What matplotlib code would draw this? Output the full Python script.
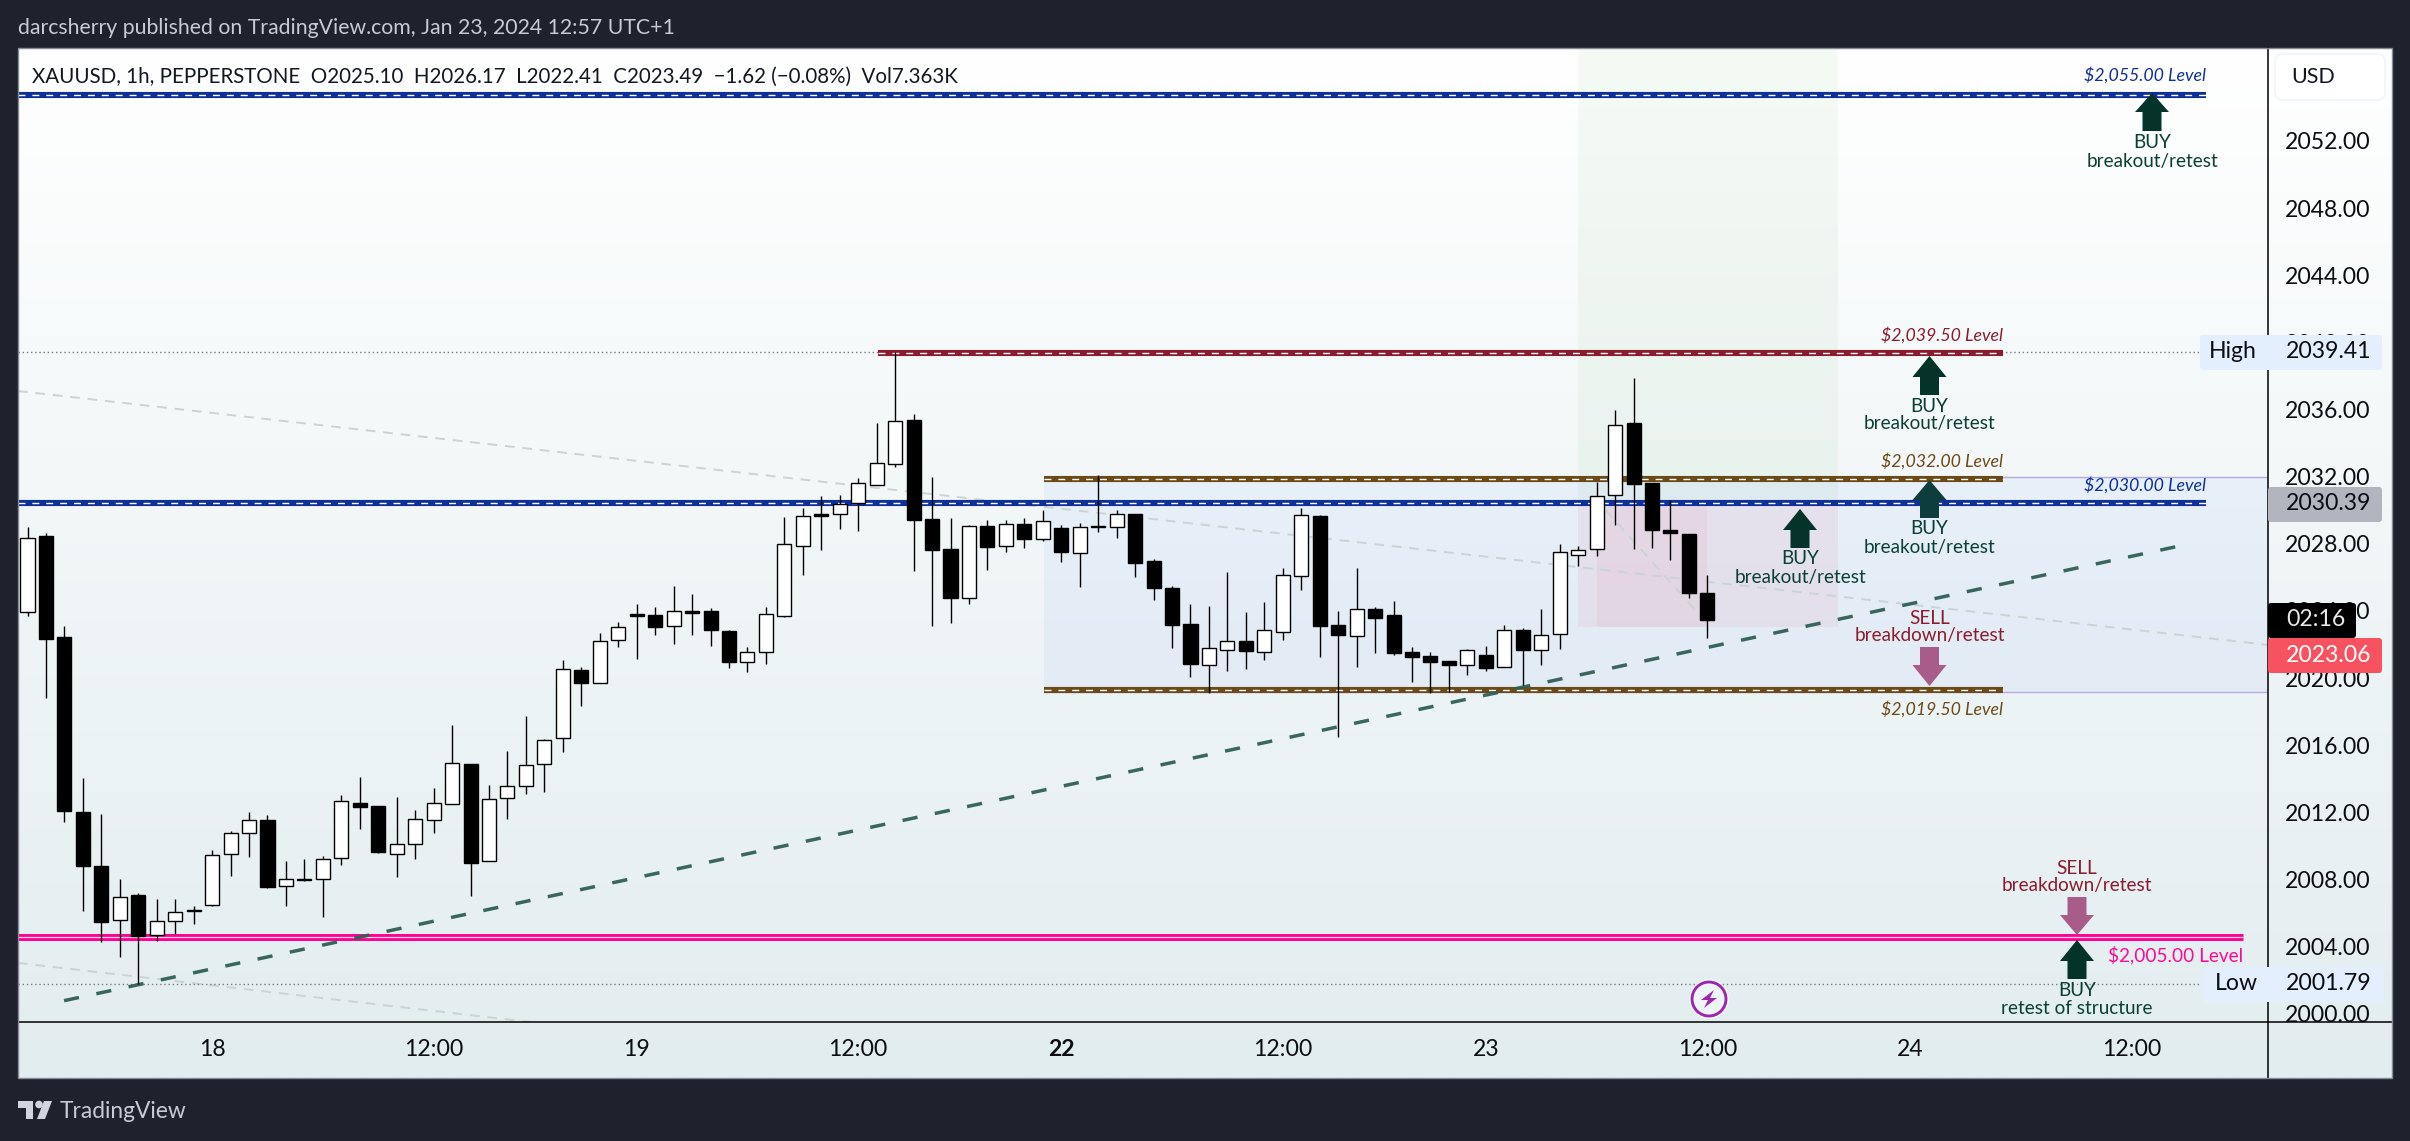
import numpy as np
import matplotlib
matplotlib.use("Agg")
import matplotlib.pyplot as plt
from matplotlib.patches import Rectangle, Polygon, Circle, FancyBboxPatch
from matplotlib.transforms import Bbox, IdentityTransform, TransformedBbox

plt.rcParams['font.family'] = ['Lato', 'DejaVu Sans']

opens = [2023.92,2028.44,2022.43,2012.01,2008.79,2005.57,2007.07,2004.73,2005.51,2006.14,
2006.51,2009.51,2010.76,2011.54,2007.60,2007.99,2008.01,2009.26,2012.54,2012.38,
2009.51,2010.10,2011.54,2012.52,2014.88,2009.10,2012.85,2013.57,2014.86,2016.42,
2020.48,2019.74,2022.30,2023.82,2023.76,2023.08,2024.01,2024.01,2022.82,2020.99,
2021.55,2023.72,2027.89,2029.77,2029.80,2030.41,2031.52,2032.77,2035.37,2029.48,
2027.69,2024.79,2029.06,2027.89,2029.18,2028.31,2028.94,2027.47,2029.00,2029.02,
2029.78,2026.98,2025.37,2023.22,2020.80,2021.70,2022.19,2021.58,2022.77,2026.10,
2029.66,2023.16,2022.53,2024.12,2023.76,2021.56,2021.32,2021.02,2020.80,2021.38,
2020.68,2022.87,2021.70,2022.61,2027.35,2027.67,2030.89,2035.20,2031.62,2028.82,
2028.58,2025.10]
highs = [2029.01,2028.62,2023.10,2014.06,2011.91,2008.01,2007.19,2006.84,2006.84,2006.41,
2009.75,2010.88,2012.01,2011.82,2009.12,2009.20,2009.38,2013.03,2014.12,2012.38,
2012.93,2012.15,2013.47,2017.22,2014.88,2013.63,2015.66,2017.75,2016.38,2021.07,
2020.64,2022.67,2023.35,2024.42,2024.23,2025.48,2025.01,2024.15,2022.86,2021.83,
2024.23,2029.60,2030.11,2030.85,2030.91,2031.90,2035.20,2039.41,2035.73,2031.98,
2029.54,2029.12,2029.42,2029.42,2029.52,2030.01,2029.12,2029.24,2032.10,2030.01,
2029.78,2027.10,2025.49,2024.42,2024.30,2026.32,2023.94,2024.53,2026.56,2030.13,
2029.72,2024.00,2026.56,2024.24,2024.59,2021.85,2021.56,2021.02,2021.73,2021.91,
2023.16,2022.99,2024.12,2027.99,2027.87,2031.68,2035.97,2037.88,2031.62,2030.61,
2028.58,2026.17]
lows = [2023.72,2018.84,2011.46,2006.16,2004.26,2003.42,2001.79,2004.36,2004.79,2005.38,
2006.43,2008.24,2009.36,2007.50,2006.45,2007.93,2005.79,2008.89,2011.04,2009.61,
2008.17,2009.20,2010.80,2012.52,2007.05,2009.10,2011.64,2013.12,2013.24,2015.62,
2018.37,2019.74,2021.87,2021.16,2022.59,2022.06,2022.59,2021.94,2020.62,2020.34,
2020.87,2023.66,2026.14,2027.65,2028.88,2028.78,2031.52,2032.57,2026.38,2023.12,
2023.30,2024.42,2026.44,2027.53,2027.75,2028.19,2026.92,2025.43,2028.70,2028.35,
2026.02,2024.65,2021.80,2020.07,2019.13,2020.42,2020.54,2021.08,2022.27,2025.25,
2021.26,2016.51,2020.66,2021.50,2021.38,2019.77,2019.13,2019.19,2020.19,2020.42,
2020.68,2019.59,2020.78,2021.74,2026.68,2027.29,2029.14,2027.69,2027.75,2027.04,
2024.79,2022.41]
closes = [2028.33,2022.35,2012.11,2008.83,2005.45,2006.98,2004.67,2005.51,2006.06,2006.18,
2009.45,2010.76,2011.54,2007.58,2008.01,2008.03,2009.20,2012.67,2012.34,2009.65,
2010.10,2011.60,2012.54,2014.92,2009.01,2012.79,2013.55,2014.80,2016.30,2020.52,
2019.74,2022.24,2023.02,2023.70,2023.06,2023.99,2023.88,2022.84,2020.99,2021.55,
2023.80,2027.97,2029.64,2029.66,2030.35,2031.60,2032.79,2035.30,2029.42,2027.63,
2024.79,2029.04,2027.83,2029.16,2028.29,2029.34,2027.51,2028.98,2029.06,2029.76,
2026.86,2025.37,2023.16,2020.84,2021.77,2022.19,2021.62,2022.85,2026.12,2029.70,
2023.12,2022.57,2024.10,2023.58,2021.50,2021.26,2020.96,2020.78,2021.66,2020.60,
2022.85,2021.70,2022.55,2027.49,2027.61,2030.83,2035.06,2031.58,2028.84,2028.66,
2025.09,2023.49]

price_ticks = [2000,2004,2008,2012,2016,2020,2024,2028,2032,2036,2040,2044,2048,2052]
time_ticks = [10,22,33,45,56,68,79,91,102,114]
time_labels = ['18','12:00','19','12:00','22','12:00','23','12:00','24','12:00']

level_prices = [2054.73,2039.35,2031.86,2030.41,2019.30,2004.60]
level_start = [-0.515,46.07,55.07,-0.515,55.07,-0.515]
level_end = [118.0,107.0,107.0,118.0,107.0,120.0]
level_colors = ['#0f2f9b','#8a1c2e','#6b4a18','#0f2f9b','#6b4a18','#ff0090']

range_top, range_bottom = 2032.0, 2019.2
range_start = 55.07
pos_start, pos_end, pos_inner_start, pos_inner_end = 84.0, 98.1, 85.0, 91.0
pos_entry, pos_stop = 2030.3, 2023.05

trend_x = [1.98, 116.4]
trend_y = [2000.79, 2027.83]
grey1_x = [-0.515, 121.37]
grey1_y = [2037.1, 2021.98]
grey2_x = [-0.515, 27.2]
grey2_y = [2003.04, 1999.52]
grey3_x = [85.5, 90.8]
grey3_y = [2030.0, 2023.5]
high_price, low_price = 2039.41, 2001.79

W, H = 2410, 1141
DARK = '#1e222d'
fig = plt.figure(figsize=(W/100, H/100), dpi=100, facecolor=DARK)

# panel gradient
bg = fig.add_axes([18/W, (H-1078)/H, (2392-18)/W, (1078-48)/H], zorder=0)
top = np.array([1.0, 1.0, 1.0])
bot = np.array([0xe2, 0xed, 0xef])/255
t = np.linspace(0, 1, 256)[:, None, None]
grad = top*(1-t) + bot*t
bg.imshow(grad, aspect='auto', extent=[0, 1, 0, 1], interpolation='bilinear')
bg.axis('off')

ax = fig.add_axes([18/W, (H-1022)/H, (2268-18)/W, (1022-48)/H], zorder=1)
ax.patch.set_alpha(0)
XL = (-0.515, 121.37)
ax.set_xlim(*XL)
ax.set_ylim(1999.52, 2057.53)
for s in ('top', 'left', 'right', 'bottom'):
    ax.spines[s].set_visible(False)

# range box
ax.fill_between([range_start, XL[1]], range_bottom, range_top, color='#2962ff', alpha=0.05, lw=0, zorder=1)
ax.hlines([range_top, range_bottom], range_start, XL[1], color='#b9a8e6', lw=1.0, zorder=1.2)
# position boxes
ax.fill_between([pos_start, pos_end], pos_entry, 2057.53, color='#4caf50', alpha=0.055, lw=0, zorder=1.1)
ax.fill_between([pos_start, pos_end], pos_stop, pos_entry, color='#e0405f', alpha=0.07, lw=0, zorder=1.1)
ax.fill_between([pos_inner_start, pos_inner_end], pos_stop, pos_entry, color='#e0405f', alpha=0.06, lw=0, zorder=1.1)

# grey lines
for xs, ys in ((grey1_x, grey1_y), (grey2_x, grey2_y), (grey3_x, grey3_y)):
    ax.plot(xs, ys, color='#cbd4d4', lw=1.4, ls=(0, (5, 4)), zorder=1.5, dash_capstyle='butt')

# high/low dotted
ax.hlines([high_price, low_price], XL[0], 117.7, color='#787b86', lw=1.0, ls=(0, (1, 2)), zorder=1.6)

# levels
for p, a, b, c in zip(level_prices, level_start, level_end, level_colors):
    if c == '#ff0090':
        ax.plot([a, b], [p, p], color=c, lw=5.0, zorder=2, solid_capstyle='butt')
        ax.plot([a, b], [p, p], color='#ffd6ec', lw=0.9, zorder=2.1, solid_capstyle='butt')
    else:
        ax.plot([a, b], [p, p], color=c, lw=4.4, zorder=2, solid_capstyle='butt')
        ax.plot([a, b], [p, p], color='white', lw=1.0, ls=(0, (5, 5)), zorder=2.1, dash_capstyle='butt')

# trend
ax.plot(trend_x, trend_y, color='#2f5f55', lw=2.5, ls=(0, (4.4, 5.1)), zorder=3, dash_capstyle='butt', alpha=0.95)

# candles
idx = np.arange(len(opens))
o, h, l, c = map(np.array, (opens, highs, lows, closes))
ax.vlines(idx, l, h, color='black', lw=1.0, zorder=4)
up = c >= o
ax.bar(idx[up], (c-o)[up], bottom=o[up], width=0.76, color='white', edgecolor='black', lw=1.0, zorder=5)
ax.bar(idx[~up], (o-c)[~up], bottom=c[~up], width=0.76, color='black', edgecolor='black', lw=1.0, zorder=5)

# ticks
ax.yaxis.tick_right()
ax.set_yticks(price_ticks)
ax.set_yticklabels([f'{v:.2f}' for v in price_ticks])
ax.set_xticks(time_ticks)
ax.set_xticklabels(time_labels)
ax.tick_params(axis='both', length=0, labelsize=16.6, labelcolor='#0b0d12')
ax.tick_params(axis='y', pad=12.5)
ax.tick_params(axis='x', pad=12)
clip = Bbox([[2268, H-1022], [2392, H-48]])
for lb in ax.get_yticklabels():
    lb.set_clip_box(TransformedBbox(clip, IdentityTransform()))
    lb.set_clip_on(True)
for lb, s in zip(ax.get_xticklabels(), time_labels):
    if s == '22':
        lb.set_fontweight('bold')

# overlay in pixels
ov = fig.add_axes([0, 0, 1, 1], zorder=2)
ov.set_xlim(0, W)
ov.set_ylim(H, 0)
ov.axis('off')
ov.patch.set_alpha(0)

def lab(x, y, s, size=13.6, color='black', ha='center', **kw):
    ov.text(x, y, s, fontsize=size, color=color, ha=ha, va='center', **kw)

def box(x0, y0, x1, y1, color, z=3):
    ov.add_patch(FancyBboxPatch((x0+2, y0+2), x1-x0-4, y1-y0-4, boxstyle='round,pad=2,rounding_size=3',
                                fc=color, ec='none', zorder=z))

def up_arrow(x, tip, base, tail, color='#04332a'):
    ov.add_patch(Polygon([(x, tip), (x+17, base), (x+9.5, base), (x+9.5, tail), (x-9.5, tail),
                          (x-9.5, base), (x-17, base)], closed=True, fc=color, ec='none', zorder=2.5))

def down_arrow(x, top_, base, tip, color='#a85c8a'):
    ov.add_patch(Polygon([(x-9.5, top_), (x+9.5, top_), (x+9.5, base), (x+17, base), (x, tip),
                          (x-17, base), (x-9.5, base)], closed=True, fc=color, ec='none', zorder=2.5))

# frame
ov.plot([2268, 2268], [48, 1078], color='black', lw=1.1, zorder=2)
ov.plot([18, 2392], [1022, 1022], color='black', lw=1.1, zorder=2)
ov.add_patch(Rectangle((18, 48), 2374, 1030, fc='none', ec='#878a94', lw=1.0, zorder=2))

# header
lab(18, 28, 'darcsherry published on TradingView.com, Jan 23, 2024 12:57 UTC+1', size=15.3, color='#c8cbd3', ha='left')
lab(32, 77, 'XAUUSD, 1h, PEPPERSTONE  O2025.10  H2026.17  L2022.41  C2023.49  \u22121.62 (\u22120.08%)  Vol7.363K',
    size=14.8, color='#131722', ha='left')

# footer logo
ov.add_patch(Polygon([(18, 1101), (33, 1101), (33, 1119), (26, 1119), (26, 1108), (18, 1108)], closed=True, fc='#d1d4dc', ec='none'))
ov.add_patch(Circle((39, 1104.5), 3.8, fc='#d1d4dc', ec='none'))
ov.add_patch(Polygon([(44, 1101), (52, 1101), (45, 1119), (37, 1119)], closed=True, fc='#d1d4dc', ec='none'))
lab(60, 1112, 'TradingView', size=16.4, color='#c8cbd3', ha='left')

# USD button
ov.add_patch(FancyBboxPatch((2277, 56), 106, 42, boxstyle='round,pad=2,rounding_size=8', fc='white', ec='#f0f3fa', lw=1.2, zorder=3))
lab(2313, 77, 'USD', size=15.5, color='#131722', zorder=4)

# level captions
BLUE, RED, BROWN, PINK = '#0f2f9b', '#8a1c2e', '#6b4a18', '#ff0a94'
CAP = 12.8
lab(2206, 75, '$2,055.00 Level', size=CAP, color=BLUE, ha='right', style='italic')
lab(2003, 335, '$2,039.50 Level', size=CAP, color=RED, ha='right', style='italic')
lab(2003, 461, '$2,032.00 Level', size=CAP, color=BROWN, ha='right', style='italic')
lab(2206, 485, '$2,030.00 Level', size=CAP, color=BLUE, ha='right', style='italic')
lab(2003, 709, '$2,019.50 Level', size=CAP, color=BROWN, ha='right', style='italic')
lab(2243, 955, '$2,005.00 Level', color=PINK, ha='right', size=13.7)

# arrows + captions
TXT = '#0a4034'
up_arrow(2152, 93, 112, 131)
lab(2152, 143, 'BUY', color=TXT); lab(2152, 161, 'breakout/retest', color=TXT)
up_arrow(1929.5, 356, 377, 395)
lab(1929.5, 406, 'BUY', color=TXT); lab(1929.5, 424, 'breakout/retest', color=TXT)
up_arrow(1929.5, 480, 500, 518, color='#0d3e3b')
lab(1929.5, 529, 'BUY', color=TXT); lab(1929.5, 547, 'breakout/retest', color=TXT)
up_arrow(1800, 509, 530, 548)
lab(1800, 559, 'BUY', color=TXT); lab(1800, 577, 'breakout/retest', color=TXT)
lab(1929.5, 618, 'SELL', color=RED); lab(1929.5, 636, 'breakdown/retest', color=RED)
down_arrow(1929.5, 647, 665, 686)
lab(2077, 868, 'SELL', color=RED); lab(2077, 886, 'breakdown/retest', color=RED)
down_arrow(2077, 897, 915, 935)
up_arrow(2077, 940, 961, 979)
lab(2077, 990, 'BUY', color=TXT); lab(2077, 1008, 'retest of structure', color=TXT)

# lightning icon
ov.add_patch(Circle((1709, 999), 19.5, fc='white', ec='none', zorder=3))
ov.add_patch(Circle((1709, 999), 17, fc='#eef5f6', ec='#9c27b0', lw=2.1, zorder=3.1))
ov.add_patch(Polygon([(1714, 990), (1701, 1000), (1708, 1000), (1704, 1008), (1717, 998), (1710, 998)],
                     closed=True, fc='#9c27b0', ec='none', zorder=3.2))

# price tags
box(2200, 335, 2382, 370, '#e3effd')
lab(2233, 352, 'High', size=16.6, color='#0b0d12', zorder=5)
lab(2286, 352, '2039.41', size=16.6, color='#0b0d12', ha='left', zorder=5)
box(2203, 967, 2383, 1002, '#e3effd')
lab(2236, 984, 'Low', size=16.6, color='#0b0d12', zorder=5)
lab(2286, 984, '2001.79', size=16.6, color='#0b0d12', ha='left', zorder=5)
box(2268, 487, 2382, 522, '#b2b5be')
lab(2286, 504, '2030.39', size=16.6, color='#0b0d12', ha='left', zorder=5)
box(2268, 603, 2356, 638, '#000000', z=3.5)
lab(2286, 620, '02:16', size=16.6, color='#e8e8e8', ha='left', zorder=5)
box(2268, 638, 2382, 673, '#f7525f', z=3.6)
lab(2286, 655, '2023.06', size=16.6, color='white', ha='left', zorder=5)

fig.savefig('out.png', dpi=100, facecolor=DARK)
